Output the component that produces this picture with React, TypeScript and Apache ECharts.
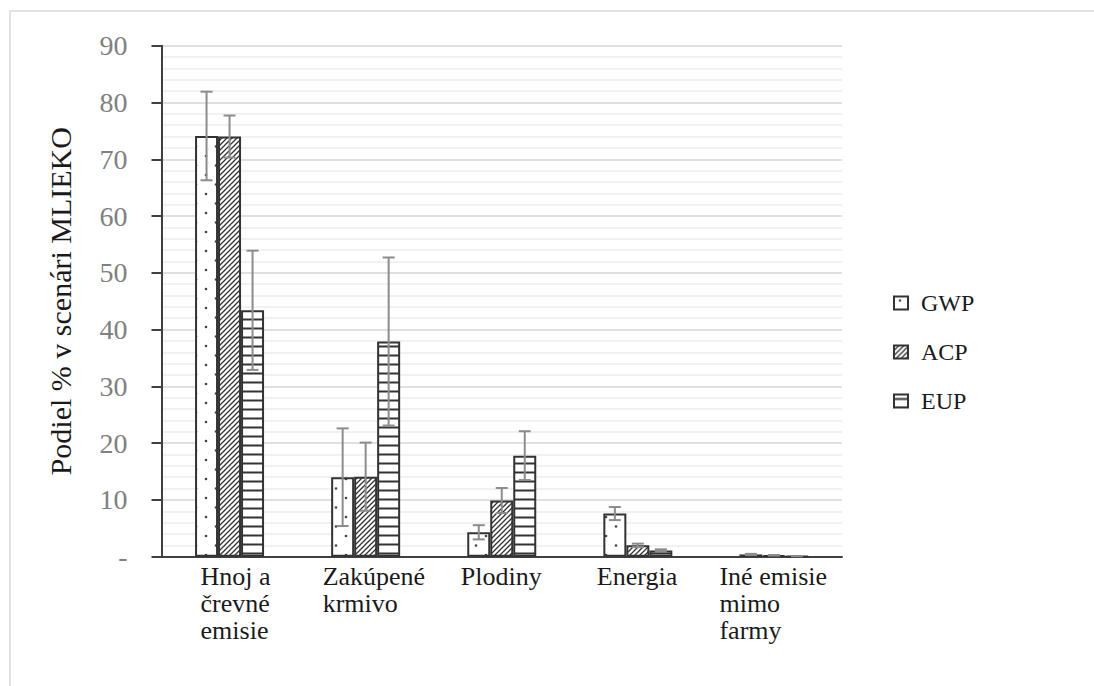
import React, { useEffect, useRef } from 'react';
import * as echarts from 'echarts';

const categories = ['Hnoj a\nčrevné\nemisie', 'Zakúpené\nkrmivo', 'Plodiny', 'Energia', 'Iné emisie\nmimo\nfarmy'];
const seriesNames = ['GWP', 'ACP', 'EUP'];
const gwpValues = [74.1, 14.0, 4.3, 7.6, 0.4];
const gwpErrors = [7.8, 8.6, 1.25, 1.15, 0.1];
const acpValues = [74.0, 14.1, 9.9, 2.0, 0.25];
const acpErrors = [3.7, 6.0, 2.2, 0.3, 0.05];
const eupValues = [43.4, 37.9, 17.8, 1.1, 0.1];
const eupErrors = [10.5, 14.8, 4.3, 0.2, 0.02];
const yMin = 0;
const yMax = 90;
const yInterval = 10;
const yAxisTitle = 'Podiel % v scenári MLIEKO';

const FONT = 'Liberation Serif';
const BAR_W = 23;

function makeTile(w: number, h: number, draw: (ctx: CanvasRenderingContext2D) => void) {
  const c = document.createElement('canvas');
  c.width = w;
  c.height = h;
  const ctx = c.getContext('2d')!;
  ctx.fillStyle = '#ffffff';
  ctx.fillRect(0, 0, w, h);
  draw(ctx);
  return c;
}

function dotTile() {
  return makeTile(20, 19, (ctx) => {
    ctx.fillStyle = '#444';
    [[6, 4], [16, 13.5]].forEach(([x, y]) => {
      ctx.beginPath();
      ctx.arc(x, y, 1.3, 0, Math.PI * 2);
      ctx.fill();
    });
  });
}

function diagTile() {
  return makeTile(5, 5, (ctx) => {
    ctx.strokeStyle = '#333';
    ctx.lineWidth = 1.3;
    ctx.beginPath();
    ctx.moveTo(-1, 6); ctx.lineTo(6, -1);
    ctx.moveTo(-1, 1); ctx.lineTo(1, -1);
    ctx.moveTo(4, 6); ctx.lineTo(6, 4);
    ctx.stroke();
  });
}

function horizTile() {
  return makeTile(10, 9, (ctx) => {
    ctx.strokeStyle = '#333';
    ctx.lineWidth = 2;
    ctx.beginPath();
    ctx.moveTo(0, 4.5); ctx.lineTo(10, 4.5);
    ctx.stroke();
  });
}

function errorSeries(k: number, values: number[], errors: number[]) {
  return {
    type: 'custom',
    name: seriesNames[k] + ' chyba',
    z: 5,
    silent: true,
    data: values.map((v, i) => [i, v, errors[i]]),
    encode: { x: 0, y: 1 },
    renderItem: (params: any, api: any) => {
      const i = api.value(0);
      const v = api.value(1);
      const e = api.value(2);
      const x = api.coord([i, v])[0] + (k - 1) * BAR_W;
      const yTop = api.coord([i, v + e])[1];
      const yBot = api.coord([i, Math.max(0, v - e)])[1];
      const style = { stroke: '#8c8c8c', lineWidth: 2 };
      return {
        type: 'group',
        children: [
          { type: 'line', shape: { x1: x, y1: yTop, x2: x, y2: yBot }, style },
          { type: 'line', shape: { x1: x - 6, y1: yTop, x2: x + 6, y2: yTop }, style },
          { type: 'line', shape: { x1: x - 6, y1: yBot, x2: x + 6, y2: yBot }, style },
        ],
      };
    },
  };
}

export default function App() {
  const ref = useRef<HTMLDivElement>(null);
  useEffect(() => {
    if (!ref.current) return;
    const chart = echarts.init(ref.current, null, { renderer: 'svg' });

    const ctx = document.createElement('canvas').getContext('2d')!;
    ctx.font = `26px ${FONT}`;
    const widths = categories.map((c) =>
      Math.ceil(Math.max(...c.split('\n').map((l) => ctx.measureText(l).width))) + 1
    );
    // extra left padding per label block (style only), to match reference placement
    const labelPad = [14, 18, 0, 0, 0];
    const rich: any = {};
    widths.forEach((w, i) => {
      rich['c' + i] = {
        width: w,
        align: 'left',
        fontSize: 26,
        lineHeight: 27,
        fontFamily: FONT,
        color: '#1a1a1a',
        padding: [0, 0, 0, labelPad[i]],
      };
    });

    const patterns = [dotTile(), diagTile(), horizTile()];
    const valueSets = [gwpValues, acpValues, eupValues];
    const errorSets = [gwpErrors, acpErrors, eupErrors];

    const barSeries = seriesNames.map((name, k) => ({
      type: 'bar',
      name,
      data: valueSets[k],
      barWidth: BAR_W,
      barGap: '0%',
      itemStyle: {
        color: { image: patterns[k], repeat: 'repeat' },
        borderColor: '#333',
        borderWidth: 2,
      },
    }));

    chart.setOption({
      animation: false,
      backgroundColor: '#ffffff',
      textStyle: { fontFamily: FONT },
      grid: { left: 161.5, right: 252, top: 45.7, bottom: 129.3 },
      graphic: [
        {
          type: 'rect',
          shape: { x: 10, y: 11, width: 1200, height: 800 },
          style: { fill: 'none', stroke: '#d9d9d9', lineWidth: 1.5 },
          silent: true,
          z: -10,
        },
      ],
      legend: {
        data: seriesNames,
        orient: 'vertical',
        left: 888,
        top: 286,
        icon: 'rect',
        itemWidth: 14,
        itemHeight: 13,
        itemGap: 25,
        textStyle: { fontSize: 24, fontFamily: FONT, color: '#1a1a1a', padding: [0, 0, 0, 8] },
      },
      xAxis: {
        type: 'category',
        data: categories,
        axisLine: { lineStyle: { color: '#404040', width: 2 } },
        axisTick: { show: false },
        axisLabel: {
          interval: 0,
          margin: 6,
          fontFamily: FONT,
          fontSize: 26,
          formatter: (value: string, index: number) =>
            value.split('\n').map((l) => `{c${index}|${l}}`).join('\n'),
          rich,
        },
      },
      yAxis: {
        type: 'value',
        min: yMin,
        max: yMax,
        interval: yInterval,
        name: yAxisTitle,
        nameLocation: 'middle',
        nameGap: 86,
        nameTextStyle: { fontSize: 30, fontFamily: FONT, color: '#1a1a1a' },
        axisLine: { show: true, lineStyle: { color: '#404040', width: 2 } },
        axisTick: { show: true, length: 10, lineStyle: { color: '#404040', width: 2 } },
        axisLabel: {
          margin: 34,
          fontSize: 28,
          fontFamily: FONT,
          color: '#808080',
          formatter: (v: number) => (v === 0 ? '-' : String(v)),
        },
        splitLine: { lineStyle: { color: '#d6d6d6', width: 1.5 } },
        minorTick: { show: false, splitNumber: 5 },
        minorSplitLine: { show: true, lineStyle: { color: '#ededed', width: 1.5 } },
      },
      series: [
        ...barSeries,
        ...seriesNames.map((_, k) => errorSeries(k, valueSets[k], errorSets[k])),
      ],
    });
    return () => chart.dispose();
  }, []);
  return (
    <div
      ref={ref}
      style={{ position: 'fixed', left: 0, top: 0, width: 1094, height: 686 }}
    />
  );
}
